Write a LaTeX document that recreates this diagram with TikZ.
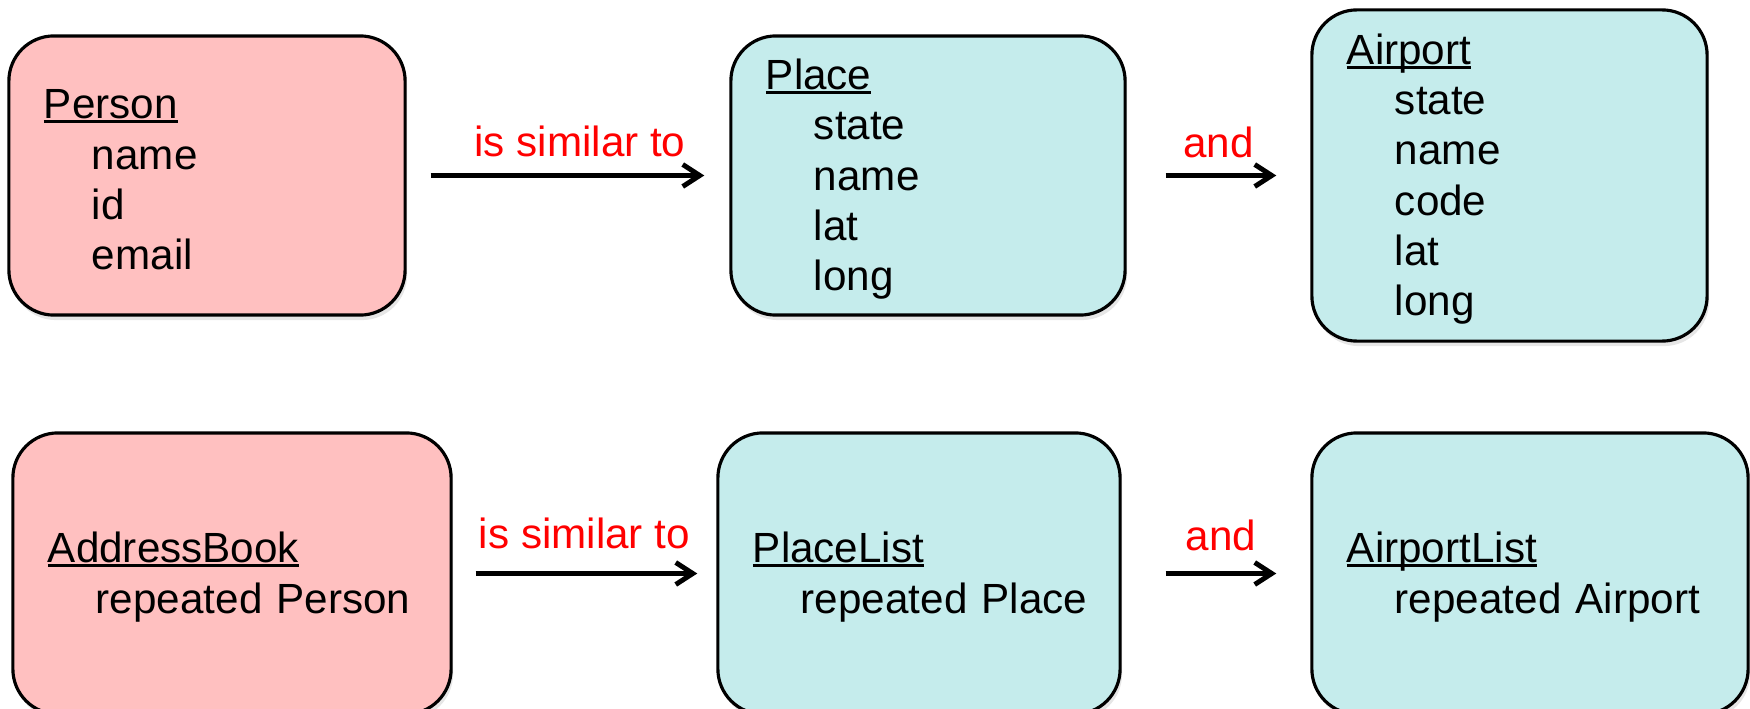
\documentclass[tikz,border=0pt]{standalone}
\usepackage{fontspec}
\setmainfont{Liberation Sans}
\usetikzlibrary{arrows.meta,shadows}

\definecolor{personpink}{RGB}{255,192,192}
\definecolor{placecyan}{RGB}{197,236,236}
\definecolor{simred}{RGB}{255,0,0}

\newcommand{\msgname}[1]{\rule{0pt}{0.38cm}\setbox0\hbox{#1}\rlap{\rule[-0.1em]{\wd0}{0.07em}}\box0}
\newcommand{\fieldline}[1]{\hspace*{0.48cm}\mbox{#1}}

\tikzset{
  msgbox/.style={draw=black, line width=0.9pt, rounded corners=0.45cm,
    align=left, inner xsep=0.35cm, inner ysep=0pt,
    font=\fontsize{12}{14.3}\selectfont,
    drop shadow={shadow xshift=0.02cm, shadow yshift=-0.05cm, opacity=0.2}},
  pinkbox/.style={msgbox, fill=personpink},
  cyanbox/.style={msgbox, fill=placecyan},
  relarrow/.style={line width=1.4pt, -{Straight Barb[length=0.17cm, width=0.22cm]}},
  rellabel/.style={text=simred, anchor=base, inner sep=0pt, font=\fontsize{12}{14.3}\selectfont}
}

\begin{document}
\begin{tikzpicture}[x=0.01cm, y=-0.01cm]

\useasboundingbox (0,0) rectangle (1750,709);

\node[pinkbox, text width=3.26cm, minimum height=2.79cm] (person) at (207,175.5)
  {\msgname{Person}\\ \fieldline{name}\\ \fieldline{id}\\ \fieldline{email}};
\node[cyanbox, text width=3.24cm, minimum height=2.79cm] (place) at (928,175.5)
  {\msgname{Place}\\ \fieldline{state}\\ \fieldline{name}\\ \fieldline{lat}\\ \fieldline{long}};
\node[cyanbox, text width=3.25cm, minimum height=3.31cm] (airport) at (1509.5,175.5)
  {\msgname{Airport}\\ \fieldline{state}\\ \fieldline{name}\\ \fieldline{code}\\ \fieldline{lat}\\ \fieldline{long}};

\node[pinkbox, text width=3.68cm, minimum height=2.81cm] (addressbook) at (232,573.5)
  {\msgname{AddressBook}\\ \fieldline{repeated Person}};
\node[cyanbox, text width=3.32cm, minimum height=2.81cm] (placelist) at (919,573.5)
  {\msgname{PlaceList}\\ \fieldline{repeated Place}};
\node[cyanbox, text width=3.66cm, minimum height=2.81cm] (airportlist) at (1530,573.5)
  {\msgname{AirportList}\\ \fieldline{repeated Airport}};

\draw[relarrow, shorten <=0.24cm, shorten >=0.25cm] (person) --
  node[rellabel, xshift=0.12cm, yshift=0.19cm] {is similar to} (place);
\draw[relarrow, shorten <=0.39cm, shorten >=0.34cm] (place) --
  node[rellabel, yshift=0.18cm] {and} (airport);

\draw[relarrow, shorten <=0.23cm, shorten >=0.19cm] (addressbook) --
  node[rellabel, yshift=0.25cm] {is similar to} (placelist);
\draw[relarrow, shorten <=0.44cm, shorten >=0.34cm] (placelist) --
  node[rellabel, xshift=0.05cm, yshift=0.23cm] {and} (airportlist);

\end{tikzpicture}
\end{document}
